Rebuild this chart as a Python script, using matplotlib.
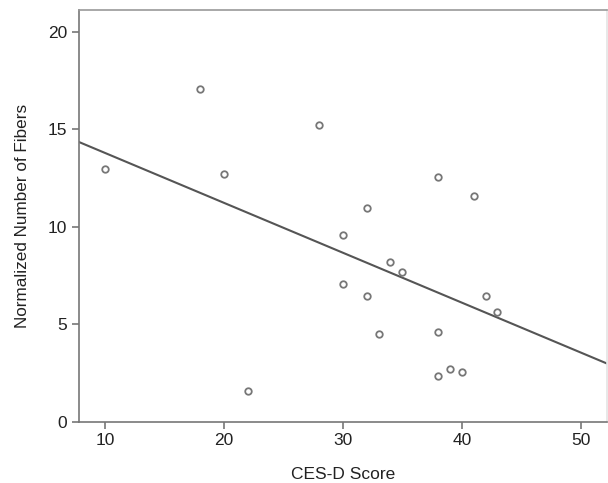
import numpy as np
import matplotlib.pyplot as plt

plt.rcParams['font.family'] = ['Liberation Sans', 'DejaVu Sans']

cesd = [10, 18, 20, 22, 28, 32, 30, 38, 41, 34, 35, 30, 32, 42, 43, 33, 38, 39, 40, 38]
fibers = [12.93, 17.08, 12.7, 1.55, 15.22, 10.95, 9.59, 12.57, 11.57, 8.17,
          7.66, 7.05, 6.45, 6.45, 5.6, 4.49, 4.59, 2.71, 2.53, 2.36]


def main():
    fig = plt.figure(figsize=(6.08, 4.83), dpi=100)
    ax = fig.add_axes([0.13, 0.127, 0.868, 0.852])

    ax.scatter(cesd, fibers, s=22, facecolors='white', edgecolors='#777777',
               linewidths=1.3, zorder=3)

    (m, b) = np.polyfit(cesd, fibers, 1)
    xs = np.array([7.8, 52.2])
    ax.plot(xs, m * xs + b, color='#555555', linewidth=1.5, zorder=2)

    ax.set_xlim(7.8, 52.2)
    ax.set_ylim(0, 21.1)
    ax.set_xticks([10, 20, 30, 40, 50])
    ax.set_yticks([0, 5, 10, 15, 20])

    for s in ax.spines.values():
        s.set_color('#777777')
        s.set_linewidth(1.2)
    ax.spines['right'].set_color('#e4e4e4')
    ax.spines['top'].set_color('#999999')
    ax.tick_params(colors='#777777', labelcolor='#222222', labelsize=12.5,
                   length=5, width=1.2)
    ax.set_xlabel('CES-D Score', fontsize=12.5, color='#222222', labelpad=13)
    ax.set_ylabel('Normalized Number of Fibers', fontsize=12.3, color='#222222', labelpad=13)

    fig.savefig('out.png', dpi=100)


main()
